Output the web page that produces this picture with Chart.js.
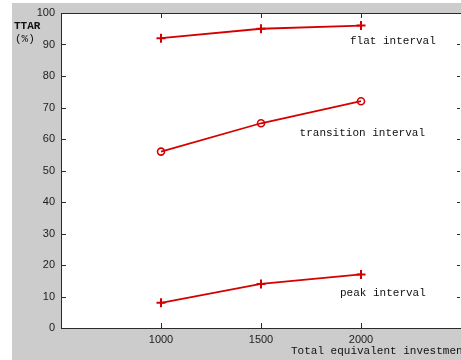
<!DOCTYPE html>
<html lang="en">
<head>
    <meta charset="UTF-8">
    <title>TTAR vs investment</title>
    <style>
        body {
            margin: 0;
            background: #ffffff;
        }
        #chartContainer {
            width: 461px;
            height: 360px;
        }
    </style>
    <script src="https://cdn.jsdelivr.net/npm/chart.js"></script>
</head>
<body>
    <div id="chartContainer">
        <canvas id="lineChart" width="461" height="360"></canvas>
    </div>
    <script>
        // values
        const investment = [1000, 1500, 2000];
        const flatInterval = [92, 95, 96];
        const transitionInterval = [56, 65, 72];
        const peakInterval = [8, 14, 17];
        const xTickValues = [1000, 1500, 2000];
        const seriesNames = ['flat interval', 'transition interval', 'peak interval'];

        const lineRed = '#d40000';
        const monoFont = '"Liberation Mono", "DejaVu Sans Mono", monospace';

        const toPoints = ys => investment.map((x, i) => ({ x: x, y: ys[i] }));

        // where the series names sit, in data units
        const labelSpots = [
            { x: 1945, y: 91.2 },
            { x: 1693, y: 62.0 },
            { x: 1895, y: 11.0 }
        ];

        const matlabLook = {
            id: 'matlabLook',
            beforeDraw(chart) {
                const c = chart.ctx;
                const a = chart.chartArea;
                c.save();
                c.fillStyle = '#ffffff';
                c.fillRect(0, 0, chart.width, chart.height);
                c.fillStyle = '#cccccc';
                c.fillRect(12, 3, chart.width - 12, chart.height - 3);
                c.fillStyle = '#ffffff';
                c.fillRect(a.left, a.top, a.right - a.left, a.bottom - a.top);
                c.restore();
            },
            afterDraw(chart) {
                const c = chart.ctx;
                const a = chart.chartArea;
                const xs = chart.scales.x;
                const ys = chart.scales.y;
                c.save();
                c.strokeStyle = '#2a2a2a';
                c.lineWidth = 1;
                c.beginPath();
                c.moveTo(a.left + 0.5, a.top + 0.5);
                c.lineTo(a.right + 0.5, a.top + 0.5);
                c.moveTo(a.left + 0.5, a.top);
                c.lineTo(a.left + 0.5, a.bottom + 0.5);
                c.lineTo(a.right, a.bottom + 0.5);
                // inward tick marks
                ys.ticks.forEach(t => {
                    const py = Math.round(ys.getPixelForValue(t.value)) + 0.5;
                    c.moveTo(a.left, py);
                    c.lineTo(a.left + 5, py);
                    c.moveTo(a.right - 1, py);
                    c.lineTo(a.right - 4, py);
                });
                xs.ticks.forEach(t => {
                    const px = Math.round(xs.getPixelForValue(t.value)) + 0.5;
                    c.moveTo(px, a.bottom);
                    c.lineTo(px, a.bottom - 5);
                    c.moveTo(px, a.top);
                    c.lineTo(px, a.top + 5);
                });
                c.stroke();

                // series names
                c.fillStyle = '#111111';
                c.font = '11px ' + monoFont;
                c.textAlign = 'left';
                c.textBaseline = 'middle';
                seriesNames.forEach((name, i) => {
                    c.fillText(name, xs.getPixelForValue(labelSpots[i].x), ys.getPixelForValue(labelSpots[i].y));
                });

                // axis titles
                c.font = 'bold 11px ' + monoFont;
                c.fillText('TTAR', 14, 26);
                c.font = '11px ' + monoFont;
                c.fillText('(%)', 15, 39);
                c.fillText('Total equivalent investment', 291, 351);
                c.restore();
            }
        };

        const ctx = document.getElementById('lineChart').getContext('2d');

        const chart = new Chart(ctx, {
            type: 'scatter',
            data: {
                datasets: [
                    {
                        label: seriesNames[0],
                        data: toPoints(flatInterval),
                        pointStyle: 'cross',
                        pointRadius: 4.5,
                        pointBorderWidth: 2
                    },
                    {
                        label: seriesNames[1],
                        data: toPoints(transitionInterval),
                        pointStyle: 'circle',
                        pointRadius: 3.5,
                        pointBorderWidth: 1.6,
                        pointBackgroundColor: 'rgba(255,255,255,0)'
                    },
                    {
                        label: seriesNames[2],
                        data: toPoints(peakInterval),
                        pointStyle: 'cross',
                        pointRadius: 4.5,
                        pointBorderWidth: 2
                    }
                ].map(d => Object.assign({
                    showLine: true,
                    borderColor: lineRed,
                    backgroundColor: lineRed,
                    borderWidth: 1.8,
                    pointBorderColor: lineRed,
                    clip: false
                }, d))
            },
            options: {
                responsive: false,
                animation: false,
                devicePixelRatio: 1,
                layout: {
                    autoPadding: false,
                    padding: { left: 0, top: 13, right: 0, bottom: 0 }
                },
                plugins: {
                    legend: { display: false },
                    tooltip: { enabled: false }
                },
                scales: {
                    x: {
                        type: 'linear',
                        min: 500,
                        max: 2500,
                        afterBuildTicks: scale => {
                            scale.ticks = xTickValues.map(v => ({ value: v }));
                        },
                        afterFit: scale => {
                            scale.height = 32;
                            scale.paddingLeft = 0;
                            scale.paddingRight = 0;
                        },
                        grid: { display: false, drawTicks: false },
                        border: { display: false },
                        ticks: {
                            color: '#222222',
                            padding: 5,
                            maxRotation: 0,
                            autoSkip: false,
                            callback: v => String(v),
                            font: { family: '"Liberation Sans", Arial, sans-serif', size: 11 }
                        }
                    },
                    y: {
                        min: 0,
                        max: 100,
                        afterFit: scale => {
                            scale.width = 61;
                            scale.paddingTop = 0;
                            scale.paddingBottom = 0;
                        },
                        grid: { display: false, drawTicks: false },
                        border: { display: false },
                        ticks: {
                            stepSize: 10,
                            color: '#222222',
                            padding: 6,
                            font: { family: '"Liberation Sans", Arial, sans-serif', size: 11 }
                        }
                    }
                }
            },
            plugins: [matlabLook]
        });
    </script>
</body>
</html>
